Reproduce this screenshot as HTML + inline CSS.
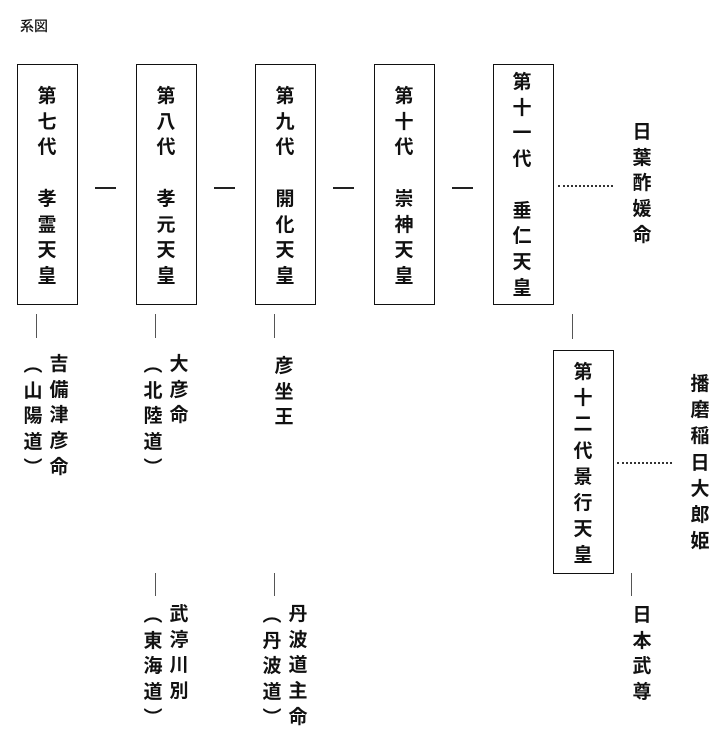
<!DOCTYPE html>
<html><head><meta charset="utf-8"><style>
body{margin:0;width:716px;height:737px;background:#fff;position:relative;overflow:hidden;font-family:"Liberation Sans","Noto Sans CJK JP",sans-serif;color:#111}
.b{position:absolute;border:1.5px solid #111;box-sizing:border-box}
.c{position:absolute;width:24px;text-align:center;font-size:19px;line-height:25.7px;font-weight:bold}
.h{position:absolute;height:2px;background:#222;width:21px}
.v{position:absolute;width:1px;background:#555}
.d{position:absolute;border-top:2px dotted #333;height:0}
</style></head><body>
<div style="position:absolute;left:20px;top:16px;font-size:14px;font-weight:500">系図</div>

<div class="b" style="left:17px;top:64px;width:61px;height:241px"></div>
<div class="b" style="left:136px;top:64px;width:61px;height:241px"></div>
<div class="b" style="left:255px;top:64px;width:61px;height:241px"></div>
<div class="b" style="left:374px;top:64px;width:61px;height:241px"></div>
<div class="b" style="left:493px;top:64px;width:61px;height:241px"></div>
<div class="b" style="left:553px;top:350px;width:61px;height:224px"></div>

<div class="c" style="left:35px;top:84px">第<br>七<br>代<br><br>孝<br>霊<br>天<br>皇</div>
<div class="c" style="left:154px;top:84px">第<br>八<br>代<br><br>孝<br>元<br>天<br>皇</div>
<div class="c" style="left:273px;top:84px">第<br>九<br>代<br><br>開<br>化<br>天<br>皇</div>
<div class="c" style="left:392px;top:84px">第<br>十<br>代<br><br>崇<br>神<br>天<br>皇</div>
<div class="c" style="left:510px;top:70px">第<br>十<br>一<br>代<br><br>垂<br>仁<br>天<br>皇</div>
<div class="c" style="left:571px;top:360px;line-height:26.2px">第<br>十<br>二<br>代<br>景<br>行<br>天<br>皇</div>

<div class="h" style="left:95px;top:187px"></div>
<div class="h" style="left:214px;top:187px"></div>
<div class="h" style="left:333px;top:187px"></div>
<div class="h" style="left:452px;top:187px"></div>
<div class="d" style="left:558px;top:185px;width:55px"></div>
<div class="d" style="left:617px;top:462px;width:55px"></div>

<div class="c" style="left:630px;top:120px">日<br>葉<br>酢<br>媛<br>命</div>
<div class="c" style="left:688px;top:372px;line-height:26.2px">播<br>磨<br>稲<br>日<br>大<br>郎<br>姫</div>

<div class="v" style="left:36px;top:314px;height:24px"></div>
<div class="v" style="left:155px;top:314px;height:24px"></div>
<div class="v" style="left:274px;top:314px;height:24px"></div>
<div class="v" style="left:572px;top:314px;height:25px"></div>
<div class="v" style="left:155px;top:573px;height:23px"></div>
<div class="v" style="left:274px;top:573px;height:23px"></div>
<div class="v" style="left:631px;top:573px;height:23px"></div>

<div class="c" style="left:47px;top:352px">吉<br>備<br>津<br>彦<br>命</div>
<div class="c" style="left:21px;top:353px">︵<br>山<br>陽<br>道<br>︶</div>
<div class="c" style="left:167px;top:352px">大<br>彦<br>命</div>
<div class="c" style="left:141px;top:353px">︵<br>北<br>陸<br>道<br>︶</div>
<div class="c" style="left:272px;top:354px">彦<br>坐<br>王</div>
<div class="c" style="left:167px;top:602px">武<br>渟<br>川<br>別</div>
<div class="c" style="left:141px;top:603px">︵<br>東<br>海<br>道<br>︶</div>
<div class="c" style="left:286px;top:602px">丹<br>波<br>道<br>主<br>命</div>
<div class="c" style="left:260px;top:603px">︵<br>丹<br>波<br>道<br>︶</div>
<div class="c" style="left:630px;top:603px">日<br>本<br>武<br>尊</div>
</body></html>
